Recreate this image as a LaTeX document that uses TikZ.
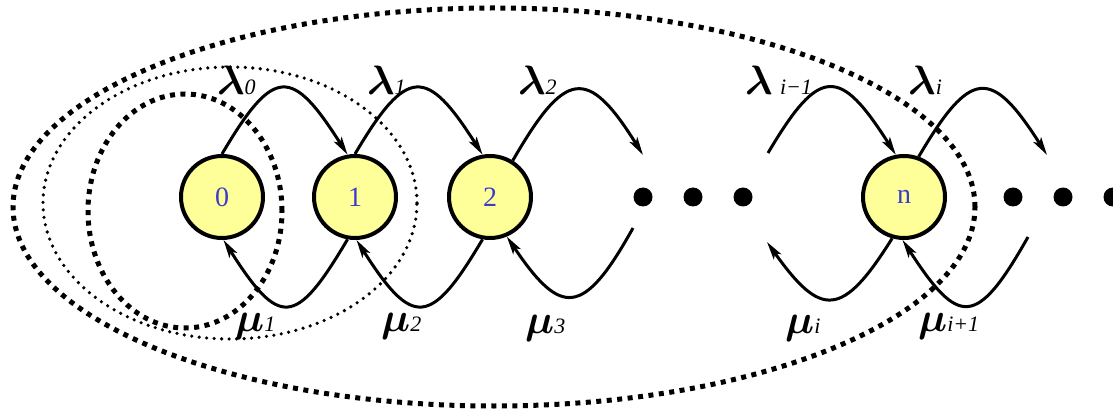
\documentclass[tikz,border=0pt]{standalone}
\usepackage{amsmath}
\usepackage{graphicx}
\usepackage{fontspec}
\setmainfont{Liberation Serif}
\usetikzlibrary{arrows.meta}
\definecolor{nodefill}{RGB}{255,255,153}
\definecolor{numblue}{RGB}{60,60,200}
\newcommand{\glab}[2]{{\fontsize{24.88}{25}\selectfont\scalebox{1.65}{$\boldsymbol{#1}$}}{\fontsize{22}{22}\selectfont\itshape #2}}
\begin{document}
\begin{tikzpicture}[x=1pt,y=-1pt,
  state/.style={circle,draw=black,line width=4pt,fill=nodefill,minimum size=82pt,inner sep=0pt,
    font=\fontsize{28}{28}\selectfont,text=numblue},
  bigdot/.style={circle,fill=black,minimum size=19pt,inner sep=0pt},
  trans/.style={line width=3pt,-{Stealth[length=18pt,width=9pt,inset=4pt]}},
  glabel/.style={anchor=base west,inner sep=0pt},
  bigdash/.style={line width=5pt,dash pattern=on 5pt off 5.5pt},
  smalldot/.style={line width=3.6pt,line cap=round,dash pattern=on 0pt off 7.5pt}]
\useasboundingbox (0,0) rectangle (1113,411);

% enclosing curves
\draw[bigdash] (185,211) ellipse [x radius=97pt, y radius=117pt];
\draw[smalldot] (230,203) ellipse [x radius=187pt, y radius=136pt];
\draw[bigdash] (494,207) ellipse [x radius=481pt, y radius=199pt];

% states
\node[state] (n0) at (222,197) {0};
\node[state] (n1) at (355,197) {1};
\node[state] (n2) at (490,197) {2};
\node[state] (nn) at (904,197) {n};

% dots
\node[bigdot] (d1) at (643,197) {};
\node[bigdot] (d2) at (693,197) {};
\node[bigdot] (d3) at (743,197) {};
\node[bigdot] (d4) at (1013,197) {};
\node[bigdot] (d5) at (1063,197) {};
\node[bigdot] (d6) at (1113,197) {};

% free ends
\coordinate (l2end) at (643,155);
\coordinate (lim1start) at (768,153);
\coordinate (liend) at (1047,155);
\coordinate (mu3start) at (633,228);
\coordinate (muiend) at (767,242);
\coordinate (mui1start) at (1028,237);

% lambda transitions
\draw[trans] (n0.90) .. controls +(52,-88) and +(-56,-88) .. (n1.100);
\draw[trans] (n1.90) .. controls +(52,-88) and +(-56,-88) .. (n2.100);
\draw[trans] (n2.58) .. controls +(52,-90) and +(-56,-90) .. (l2end);
\draw[trans] (lim1start) .. controls +(52,-88) and +(-56,-88) .. (nn.101);
\draw[trans] (nn.70) .. controls +(52,-88) and +(-56,-88) .. (liend);

% mu transitions
\draw[trans] (n1.260) .. controls +(-52,88) and +(56,88) .. (n0.272);
\draw[trans] (n2.260) .. controls +(-52,88) and +(56,88) .. (n1.272);
\draw[trans] (mu3start) .. controls +(-50,90) and +(54,80) .. (n2.293);
\draw[trans] (nn.254) .. controls +(-50,80) and +(54,76) .. (muiend);
\draw[trans] (mui1start) .. controls +(-52,92) and +(56,86) .. (nn.268);

% labels
\node[glabel] (l0) at (217,95) {\glab{\lambda}{0}};
\node[glabel] (l1) at (367,95) {\glab{\lambda}{1}};
\node[glabel] (l2) at (518,95) {\glab{\lambda}{2}};
\node[glabel] (lim1) at (745,95) {\glab{\lambda}{\,\,i−1}};
\node[glabel] (li) at (908,95) {\glab{\lambda}{i}};
\node[glabel] (m1) at (235,332) {\glab{\mu}{1}};
\node[glabel] (m2) at (381,332) {\glab{\mu}{2}};
\node[glabel] (m3) at (525,334) {\glab{\mu}{3}};
\node[glabel] (mi) at (785,334) {\glab{\mu}{i}};
\node[glabel] (mi1) at (918,332) {\glab{\mu}{i+1}};
\end{tikzpicture}
\end{document}
